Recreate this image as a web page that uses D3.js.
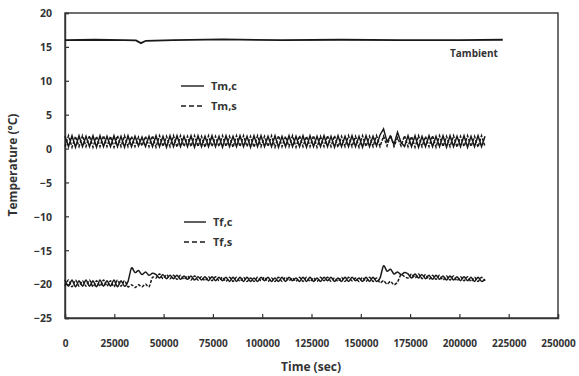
<!DOCTYPE html>
<html><head><meta charset="utf-8">
<script src="https://cdn.jsdelivr.net/npm/d3@7"></script>
<style>
body{margin:0;background:#fff;}
text{font-family:"Open Sans","DejaVu Sans",sans-serif;font-weight:700;fill:#333;}
</style></head>
<body><svg id="c" width="579" height="376"></svg>
<script>
// ---- data ----
const xTicks = [0,25000,50000,75000,100000,125000,150000,175000,200000,225000,250000];
const yTicks = [-25,-20,-15,-10,-5,0,5,10,15,20];
const sampleStep = 1775; // seconds between logged samples of the oscillating series

const ambTime = [0,15000,30000,36000,38500,41000,55000,80000,110000,140000,170000,200000,222000];
const ambVals = [16.0,16.05,16.0,15.95,15.55,15.9,16.0,16.1,16.0,16.05,16.0,16.0,16.05];

const tmC = [1.8,0.3,1.9,0.2,1.9,0.3,1.8,0.3,1.9,0.2,
 1.9,0.3,1.8,0.3,1.9,0.3,1.8,0.2,1.9,0.3,
 1.8,0.4,1.7,0.3,1.8,0.3,1.9,0.3,1.8,0.2,
 1.9,0.3,1.9,0.3,1.8,0.3,1.9,0.2,1.9,0.3,
 1.8,0.3,1.9,0.3,1.8,0.2,1.9,0.3,1.8,0.3,
 1.9,0.3,1.8,0.2,1.9,0.3,1.9,0.3,1.8,0.3,
 1.9,0.2,1.8,0.3,1.9,0.3,1.8,0.3,1.9,0.2,
 1.9,0.3,1.8,0.3,1.9,0.3,1.8,0.2,1.9,0.3,
 1.8,0.3,1.9,0.3,1.8,0.2,1.9,0.3,1.8,0.4,
 2.0,2.9,1.0,1.8,0.6,2.4,0.9,0.3,1.9,0.3,
 1.9,0.2,1.8,0.3,1.9,0.3,1.8,0.3,1.9,0.2,
 1.9,0.3,1.8,0.3,1.9,0.2,1.8,0.3,1.9,0.3,
 1.8];
const tmS = [0.3,1.9,0.2,1.8,0.3,1.9,0.3,1.9,0.2,1.8,
 0.3,1.9,0.3,1.8,0.2,1.9,0.3,1.9,0.3,1.8,
 0.3,1.7,0.4,1.8,0.3,1.9,0.2,1.9,0.3,1.8,
 0.3,1.9,0.2,1.9,0.3,1.8,0.3,1.9,0.3,1.8,
 0.2,1.9,0.3,1.8,0.3,1.9,0.3,1.8,0.2,1.9,
 0.3,1.9,0.3,1.8,0.2,1.9,0.3,1.8,0.3,1.9,
 0.2,1.9,0.3,1.8,0.3,1.9,0.2,1.9,0.3,1.8,
 0.3,1.9,0.2,1.8,0.3,1.9,0.3,1.9,0.2,1.8,
 0.3,1.9,0.3,1.8,0.2,1.9,0.3,1.8,0.3,1.9,
 0.3,1.8,0.4,2.0,0.3,1.6,0.4,1.9,0.3,1.8,
 0.2,1.9,0.3,1.8,0.3,1.9,0.2,1.9,0.3,1.8,
 0.3,1.9,0.2,1.8,0.3,1.9,0.3,1.8,0.2,1.9,
 0.3];
const tfC = [-19.4,-20.3,-19.4,-20.4,-19.5,-20.3,-19.4,-20.3,-19.5,-20.4,
 -19.4,-20.3,-19.5,-20.3,-19.4,-20.4,-19.5,-20.3,-19.6,-17.6,
 -18.3,-18.0,-18.6,-18.2,-18.7,-18.4,-18.6,-19.1,-18.6,-19.2,
 -18.7,-19.2,-18.7,-19.3,-18.8,-19.3,-18.8,-19.4,-18.9,-19.4,
 -18.9,-19.5,-18.9,-19.5,-19.0,-19.5,-19.0,-19.6,-19.0,-19.6,
 -19.0,-19.6,-19.0,-19.6,-19.1,-19.6,-19.0,-19.5,-19.0,-19.6,
 -19.1,-19.6,-19.0,-19.6,-19.0,-19.5,-19.1,-19.6,-19.0,-19.6,
 -19.0,-19.6,-19.1,-19.6,-19.0,-19.5,-19.0,-19.6,-19.1,-19.6,
 -19.0,-19.6,-19.0,-19.5,-19.1,-19.6,-19.0,-19.6,-19.0,-19.6,
 -19.1,-17.3,-18.1,-17.8,-18.5,-18.2,-18.6,-18.3,-18.5,-19.1,
 -18.5,-19.1,-18.6,-19.2,-18.7,-19.3,-18.7,-19.3,-18.8,-19.4,
 -18.8,-19.4,-18.9,-19.5,-18.9,-19.5,-19.0,-19.6,-19.0,-19.6,
 -19.3];
const tfS = [-20.3,-19.4,-20.4,-19.4,-20.3,-19.5,-20.3,-19.4,-20.4,-19.5,
 -20.3,-19.4,-20.3,-19.5,-20.4,-19.4,-20.3,-19.5,-20.4,-20.1,
 -20.5,-20.1,-20.4,-20.0,-20.4,-19.0,-19.1,-18.5,-19.2,-18.6,
 -19.2,-18.7,-19.3,-18.7,-19.3,-18.8,-19.4,-18.8,-19.4,-18.9,
 -19.5,-18.9,-19.5,-18.9,-19.5,-19.0,-19.6,-19.0,-19.6,-19.0,
 -19.6,-19.0,-19.6,-19.1,-19.6,-19.0,-19.5,-19.0,-19.6,-19.1,
 -19.6,-19.0,-19.6,-19.0,-19.5,-19.1,-19.6,-19.0,-19.6,-19.0,
 -19.6,-19.1,-19.6,-19.0,-19.5,-19.0,-19.6,-19.1,-19.6,-19.0,
 -19.6,-19.0,-19.5,-19.1,-19.6,-19.0,-19.6,-19.0,-19.6,-19.1,
 -19.8,-19.5,-20.0,-19.6,-20.1,-19.7,-18.6,-18.9,-19.1,-18.5,
 -19.1,-18.5,-19.2,-18.6,-19.3,-18.7,-19.3,-18.7,-19.4,-18.8,
 -19.4,-18.8,-19.5,-18.9,-19.5,-18.9,-19.6,-19.0,-19.6,-19.0,
 -19.5];

// ---- chart ----
const svg = d3.select("#c");
const x = d3.scaleLinear().domain([0,250000]).range([65,558]);
const y = d3.scaleLinear().domain([-25,20]).range([318,13]);
const ink = "#1a1a1a";

// frame
svg.append("rect").attr("x",x(0)).attr("y",y(20)).attr("width",x(250000)-x(0)).attr("height",y(-25)-y(20))
  .attr("fill","none").attr("stroke","#333").attr("stroke-width",1.4);

// x axis (ticks inside)
const gx = svg.append("g").attr("transform",`translate(0,${y(-25)})`)
  .call(d3.axisBottom(x).tickValues(xTicks).tickSize(-4).tickPadding(0).tickFormat(d3.format("d")));
gx.select(".domain").attr("stroke","#333").attr("stroke-width",1.4);
gx.selectAll(".tick line").attr("stroke","#333").attr("stroke-width",1.2);
gx.selectAll(".tick text").attr("y",29).attr("dy",0).style("font-size","10px").attr("fill","#333");

// y axis (ticks inside)
const gy = svg.append("g").attr("transform",`translate(${x(0)},0)`)
  .call(d3.axisLeft(y).tickValues(yTicks).tickSize(-4).tickPadding(0));
gy.select(".domain").attr("stroke","#333").attr("stroke-width",1.4);
gy.selectAll(".tick line").attr("stroke","#333").attr("stroke-width",1.2);
gy.selectAll(".tick text").attr("x",-13).attr("dy","0.36em").style("font-size","10.5px").attr("fill","#333");

// axis titles
svg.append("text").attr("x",311).attr("y",371).attr("text-anchor","middle").style("font-size","12px").text("Time (sec)");
svg.append("text").attr("transform","translate(17,165) rotate(-90)").attr("text-anchor","middle").style("font-size","12px").text("Temperature (°C)");

// series
const ptsIdx = (arr) => arr.map((v,i)=>[i*sampleStep, v]);
const zig = d3.line().x(d=>x(d[0])).y(d=>y(d[1]));
const smooth = d3.line().x(d=>x(d[0])).y(d=>y(d[1])).curve(d3.curveCardinal.tension(0.2));

svg.append("path").attr("d",zig(ambTime.map((t,i)=>[t,ambVals[i]])))
  .attr("fill","none").attr("stroke",ink).attr("stroke-width",1.8);

const series = [
  {vals:tmC, dash:null, gen:zig},
  {vals:tmS, dash:"3,1.5", gen:zig},
  {vals:tfC, dash:null, gen:smooth},
  {vals:tfS, dash:"3,1.5", gen:smooth}
];
series.forEach(s=>{
  svg.append("path").attr("d",s.gen(ptsIdx(s.vals)))
    .attr("fill","none").attr("stroke",ink).attr("stroke-width",1.5)
    .attr("stroke-dasharray",s.dash);
});

// labels / legends
svg.append("text").attr("x",450).attr("y",57).style("font-size","10px").text("Tambient");
const legend = [
  {label:"Tm,c", yy:86, x1:181, x2:204, dash:null},
  {label:"Tm,s", yy:106, x1:181, x2:204, dash:"5,3"},
  {label:"Tf,c", yy:222, x1:184, x2:206, dash:null},
  {label:"Tf,s", yy:242, x1:184, x2:206, dash:"5,3"}
];
legend.forEach(l=>{
  svg.append("line").attr("x1",l.x1).attr("x2",l.x2).attr("y1",l.yy).attr("y2",l.yy)
    .attr("stroke",ink).attr("stroke-width",1.4).attr("stroke-dasharray",l.dash);
  svg.append("text").attr("x",l.x2+7).attr("y",l.yy+4).style("font-size","11px").text(l.label);
});
</script></body></html>
